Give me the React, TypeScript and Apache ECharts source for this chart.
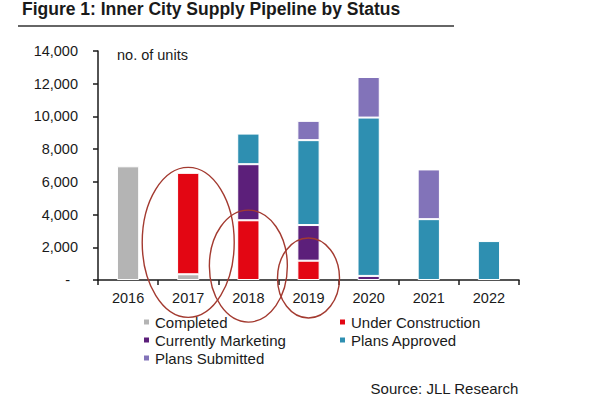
import React, { useEffect, useRef } from "react";
import * as echarts from "echarts";

const years = ["2016", "2017", "2018", "2019", "2020", "2021", "2022"];
const completed: (number | null)[] = [6950, 350, null, null, null, null, null];
const underConstruction: (number | null)[] = [null, 6200, 3650, 1180, null, null, null];
const currentlyMarketing: (number | null)[] = [null, null, 3430, 2180, 250, null, null];
const plansApproved: (number | null)[] = [null, null, 1870, 5190, 9680, 3720, 2380];
const plansSubmitted: (number | null)[] = [null, null, null, 1180, 2480, 3040, null];

const seriesNames = ["Completed", "Under Construction", "Currently Marketing", "Plans Approved", "Plans Submitted"];
const seriesColors = ["#b4b4b4", "#e30613", "#5c1f7a", "#2e8fb1", "#8273b9"];
const seriesData = [completed, underConstruction, currentlyMarketing, plansApproved, plansSubmitted];

// annotation circles: category, value at centre
const circleYears = ["2017", "2018", "2019"];
const circleValues = [2300, 850, 0];

const FONT = "'Liberation Sans', Arial, sans-serif";

export default function App() {
  const ref = useRef<HTMLDivElement>(null);
  useEffect(() => {
    if (!ref.current) return;
    const chart = echarts.init(ref.current, null, { renderer: "svg" });
    const legendText = { fontSize: 15, color: "#1a1a1a", lineHeight: 18, fontFamily: FONT };
    const option: any = {
      animation: false,
      backgroundColor: "#ffffff",
      textStyle: { fontFamily: FONT },
      grid: { left: 98, right: 83, top: 51, bottom: 118, containLabel: false },
      xAxis: {
        type: "category",
        data: years,
        boundaryGap: true,
        axisLine: { lineStyle: { color: "#1a1a1a", width: 1.5 } },
        axisTick: { show: true, length: 5, lineStyle: { color: "#1a1a1a", width: 1.5 } },
        axisLabel: { color: "#1a1a1a", fontSize: 14.5, margin: 10, fontFamily: FONT },
      },
      yAxis: {
        type: "value",
        min: 0,
        max: 14000,
        interval: 2000,
        splitLine: { show: false },
        axisLine: { show: true, lineStyle: { color: "#1a1a1a", width: 1.5 } },
        axisTick: { show: true, length: 5, lineStyle: { color: "#1a1a1a", width: 1.5 } },
        axisLabel: {
          color: "#1a1a1a",
          fontSize: 14.5,
          margin: 20,
          fontFamily: FONT,
          formatter: (v: number) => (v === 0 ? "{d|-}" : v.toLocaleString("en-US")),
          rich: { d: { fontSize: 14.5, color: "#1a1a1a", padding: [0, 8, 0, 0], fontFamily: FONT } },
        },
      },
      legend: [
        {
          orient: "vertical",
          left: 137,
          top: 308,
          itemGap: 0,
          itemWidth: 7,
          itemHeight: 7,
          icon: "rect",
          textStyle: legendText,
          data: ["Completed", "Currently Marketing", "Plans Submitted"],
        },
        {
          orient: "vertical",
          left: 333,
          top: 308,
          itemGap: 0,
          itemWidth: 7,
          itemHeight: 7,
          icon: "rect",
          textStyle: legendText,
          data: ["Under Construction", "Plans Approved"],
        },
      ],
      series: seriesNames.map((name, i) => ({
        name,
        type: "bar",
        stack: "total",
        barWidth: "37%",
        data: seriesData[i],
        itemStyle: { color: seriesColors[i], borderColor: "#ffffff", borderWidth: 1 },
      })),
      graphic: [
        {
          type: "text",
          left: 22,
          top: 0,
          style: { text: "Figure 1: Inner City Supply Pipeline by Status", fontSize: 17.5, fontWeight: "bold", fill: "#1a1a1a", fontFamily: FONT },
        },
        {
          type: "line",
          shape: { x1: 18, y1: 26, x2: 454, y2: 26 },
          style: { stroke: "#333333", lineWidth: 1.5 },
        },
        {
          type: "text",
          left: 117,
          top: 47,
          style: { text: "no. of units", fontSize: 14.5, fill: "#1a1a1a", fontFamily: FONT },
        },
        {
          type: "text",
          right: 83,
          top: 381,
          style: { text: "Source: JLL Research", fontSize: 15, fill: "#1a1a1a", fontFamily: FONT },
        },
      ],
    };
    chart.setOption(option);

    const radii = [
      [46, 75],
      [39, 56],
      [31, 40],
    ];
    const ellipses = circleYears.map((yr, i) => {
      const p = chart.convertToPixel({ gridIndex: 0 }, [yr, circleValues[i]]) as number[];
      return {
        type: "ellipse",
        silent: true,
        z: 100,
        shape: { cx: p[0], cy: p[1] + (i === 2 ? -2 : 0), rx: radii[i][0], ry: radii[i][1] },
        style: { fill: "none", stroke: "#a33a30", lineWidth: 1.4 },
      };
    });
    chart.setOption({ graphic: [...option.graphic, ...ellipses] }, { replaceMerge: ["graphic"] } as any);

    return () => chart.dispose();
  }, []);
  return <div ref={ref} style={{ width: 602, height: 398, position: "absolute", left: 0, top: 0 }} />;
}
